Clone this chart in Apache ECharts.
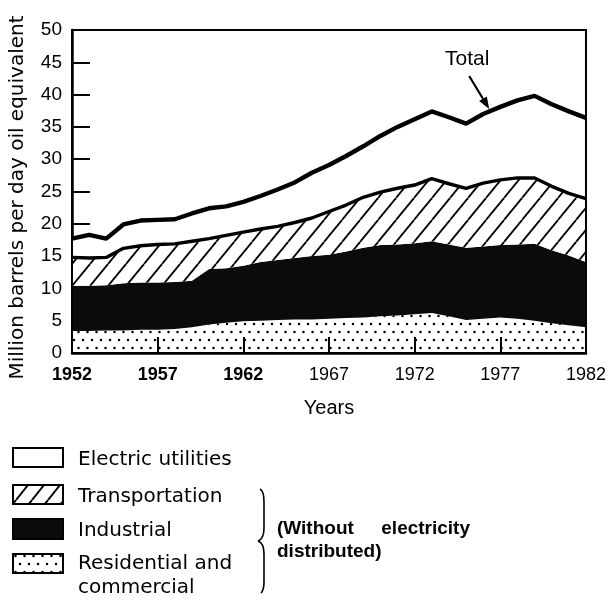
<!DOCTYPE html>
<html><head><meta charset="utf-8">
<script src="https://cdn.jsdelivr.net/npm/echarts@6/dist/echarts.min.js"></script>
<style>html,body{margin:0;padding:0;background:#fff}#c{width:609px;height:602px}</style>
</head><body><div id="c"></div>
<script>
const years = ['1952','1953','1954','1955','1956','1957','1958','1959','1960','1961','1962','1963','1964','1965','1966','1967','1968','1969','1970','1971','1972','1973','1974','1975','1976','1977','1978','1979','1980','1981','1982'];
const residential = [3.4,3.4,3.5,3.5,3.6,3.6,3.7,4.0,4.4,4.7,4.9,5.0,5.1,5.2,5.2,5.3,5.4,5.5,5.7,5.8,6.0,6.2,5.7,5.1,5.3,5.5,5.3,5.0,4.6,4.3,4.0];
const industrial = [7.0,7.0,7.0,7.3,7.3,7.3,7.3,7.2,8.6,8.4,8.6,9.1,9.3,9.5,9.8,9.9,10.3,10.8,11.0,11.0,11.0,11.1,11.1,11.2,11.2,11.2,11.5,11.9,11.3,10.8,10.1];
const transportation = [4.4,4.3,4.3,5.4,5.7,5.9,5.9,6.1,4.7,5.1,5.2,5.1,5.2,5.5,5.9,6.7,7.2,7.8,8.2,8.7,9.0,9.7,9.4,9.2,9.8,10.1,10.3,10.2,9.9,9.6,9.8];
const electric = [2.9,3.6,2.9,3.7,3.9,3.8,3.8,4.3,4.7,4.5,4.7,5.1,5.7,6.2,7.0,7.2,7.6,7.9,8.7,9.5,10.2,10.4,10.3,10.0,10.7,11.3,12.0,12.7,12.7,12.7,12.5];
const legendNames = ['Electric utilities','Transportation','Industrial','Residential and','commercial'];
const yAxisTitle = 'Million barrels per day oil equivalent';
const xAxisTitle = 'Years';
const noteText = ['(Without', 'electricity', 'distributed)'];
const arrowYearIndex = 24;

function hatchPattern(w, h, lw) {
  const c = document.createElement('canvas'); c.width = w; c.height = h;
  const g = c.getContext('2d');
  g.fillStyle = '#fff'; g.fillRect(0, 0, w, h);
  g.strokeStyle = '#000'; g.lineWidth = lw;
  for (let k = -1; k <= 1; k++) {
    g.beginPath(); g.moveTo(k * w, h); g.lineTo(k * w + w, 0); g.stroke();
  }
  return { image: c, repeat: 'repeat' };
}
function dotPattern() {
  const c = document.createElement('canvas'); c.width = 9; c.height = 16;
  const g = c.getContext('2d');
  g.fillStyle = '#fff'; g.fillRect(0, 0, 9, 16);
  g.fillStyle = '#000';
  [[2, 4], [6.5, 12]].forEach(p => { g.beginPath(); g.arc(p[0], p[1], 1.25, 0, Math.PI * 2); g.fill(); });
  return { image: c, repeat: 'repeat' };
}
const HATCH = hatchPattern(18, 22, 1.8);
const DOTS = dotPattern();
const BLACK = '#0b0b0b';
const FONT = 'Liberation Sans';
const LFONT = 'DejaVu Sans';

const chart = echarts.init(document.getElementById('c'), null, { renderer: 'canvas' });

function areaSeries(name, data, fill, lw, z) {
  return {
    name, type: 'line', stack: 'all', data, symbol: 'none', z,
    lineStyle: lw > 0 ? { color: '#000', width: lw } : { width: 0, opacity: 0 },
    areaStyle: { color: fill, opacity: 1 },
    emphasis: { disabled: true }, silent: true
  };
}

chart.setOption({
  animation: false,
  backgroundColor: '#fff',
  grid: { left: 72, right: 13, top: 30, bottom: 249, show: true, borderColor: '#000', borderWidth: 2, backgroundColor: 'transparent', z: 5 },
  xAxis: {
    type: 'category', data: years, boundaryGap: false, z: 6,
    name: xAxisTitle, nameLocation: 'middle', nameGap: 45,
    nameTextStyle: { fontFamily: FONT, fontSize: 20, color: '#000' },
    axisLine: { lineStyle: { color: '#000', width: 2.5 } },
    axisTick: { inside: true, length: 16, interval: 4, lineStyle: { color: '#000', width: 2 } },
    axisLabel: {
      interval: 4, margin: 13, color: '#000',
      formatter: (v, i) => (i <= 10 ? '{b|' + v + '}' : '{n|' + v + '}'),
      rich: {
        b: { fontFamily: FONT, fontWeight: 'bold', fontSize: 18, color: '#000' },
        n: { fontFamily: FONT, fontSize: 18, color: '#000' }
      }
    },
    splitLine: { show: false }
  },
  yAxis: {
    type: 'value', min: 0, max: 50, interval: 5, z: 0,
    name: yAxisTitle, nameLocation: 'middle', nameGap: 44, nameRotate: 90,
    nameTextStyle: { fontFamily: LFONT, fontSize: 20, color: '#000', padding: [0, 12, 0, 0] },
    axisLine: { show: true, lineStyle: { color: '#000', width: 2.5 } },
    axisTick: { show: true, inside: true, length: 18, lineStyle: { color: '#000', width: 2 } },
    axisLabel: { fontFamily: FONT, fontSize: 19, color: '#000', margin: 10 },
    splitLine: { show: false }
  },
  series: [
    areaSeries('Residential and commercial', residential, DOTS, 0, 2),
    areaSeries('Industrial', industrial, BLACK, 0, 2),
    areaSeries('Transportation', transportation, HATCH, 3.4, 3),
    areaSeries('Electric utilities', electric, '#fff', 4.4, 2)
  ]
});

// annotation arrow for Total, anchored on the data
const totalAt = residential[arrowYearIndex] + industrial[arrowYearIndex] + transportation[arrowYearIndex] + electric[arrowYearIndex];
const p = chart.convertToPixel({ gridIndex: 0 }, [arrowYearIndex, totalAt]);
const tip = [p[0] + 6, p[1] - 5];
const start = [tip[0] - 20, tip[1] - 33];
const ang = Math.atan2(tip[1] - start[1], tip[0] - start[0]);
const hl = 12, hw = 4.5;
const base = [tip[0] - hl * Math.cos(ang), tip[1] - hl * Math.sin(ang)];
const nx = -Math.sin(ang), ny = Math.cos(ang);

const legendBoxes = [
  { y: 448, h: 19, fill: '#fff' },
  { y: 485, h: 19, fill: hatchPattern(16, 20, 2) },
  { y: 519, h: 20, fill: BLACK },
  { y: 554, h: 19, fill: DOTS }
];
const legendTextY = [459.5, 497, 531, 564, 588];

const elements = [];
legendBoxes.forEach(b => elements.push({ type: 'rect', shape: { x: 13, y: b.y, width: 50, height: b.h }, style: { fill: b.fill, stroke: '#000', lineWidth: 2 }, z: 10 }));
legendNames.forEach((t, i) => elements.push({ type: 'text', x: 78, y: legendTextY[i], style: { text: t, font: '20px "' + LFONT + '"', fill: '#000', textAlign: 'left', textVerticalAlign: 'middle' }, z: 10 }));
// brace
const braceStyle = { fill: 'none', stroke: '#000', lineWidth: 1.6 };
[
  { x1: 260, y1: 489, x2: 264, y2: 502, cpx1: 264, cpy1: 491 },
  { x1: 264, y1: 528, x2: 258, y2: 541, cpx1: 264, cpy1: 539 },
  { x1: 258, y1: 541, x2: 264, y2: 554, cpx1: 264, cpy1: 543 },
  { x1: 264, y1: 582, x2: 261, y2: 593, cpx1: 264, cpy1: 590 }
].forEach(s => elements.push({ type: 'bezierCurve', shape: s, style: braceStyle, z: 10 }));
elements.push({ type: 'line', shape: { x1: 264, y1: 502, x2: 264, y2: 528 }, style: braceStyle, z: 10 });
elements.push({ type: 'line', shape: { x1: 264, y1: 554, x2: 264, y2: 582 }, style: braceStyle, z: 10 });
elements.push({ type: 'text', x: 277, y: 529, style: { text: noteText[0], font: 'bold 19px "' + FONT + '"', fill: '#000', textAlign: 'left', textVerticalAlign: 'middle' }, z: 10 });
elements.push({ type: 'text', x: 470, y: 529, style: { text: noteText[1], font: 'bold 19px "' + FONT + '"', fill: '#000', textAlign: 'right', textVerticalAlign: 'middle' }, z: 10 });
elements.push({ type: 'text', x: 277, y: 552, style: { text: noteText[2], font: 'bold 19px "' + FONT + '"', fill: '#000', textAlign: 'left', textVerticalAlign: 'middle' }, z: 10 });
elements.push({ type: 'line', shape: { x1: start[0], y1: start[1], x2: base[0], y2: base[1] }, style: { stroke: '#000', lineWidth: 2.2 }, z: 10 });
elements.push({ type: 'polygon', shape: { points: [tip, [base[0] + nx * hw, base[1] + ny * hw], [base[0] - nx * hw, base[1] - ny * hw]] }, style: { fill: '#000' }, z: 10 });
elements.push({ type: 'text', x: start[0] - 2, y: start[1] - 17, style: { text: 'Total', font: '21px "' + FONT + '"', fill: '#000', textAlign: 'center', textVerticalAlign: 'middle' }, z: 10 });

chart.setOption({ graphic: { elements } });
</script>
</body></html>
